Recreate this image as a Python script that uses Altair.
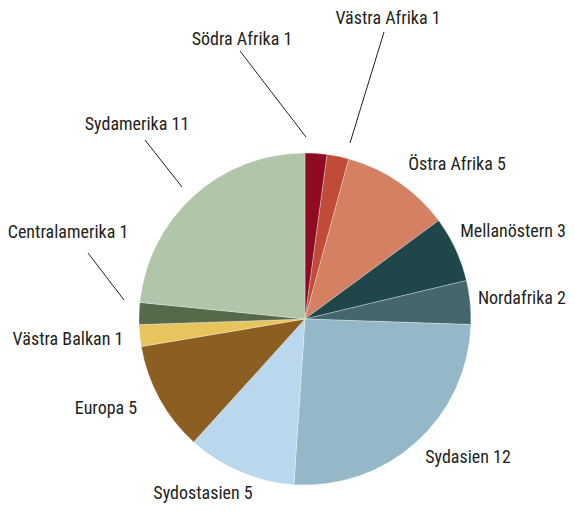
import altair as alt
import pandas as pd

categories = ["Södra Afrika", "Västra Afrika", "Östra Afrika", "Mellanöstern", "Nordafrika",
              "Sydasien", "Sydostasien", "Europa", "Västra Balkan", "Centralamerika", "Sydamerika"]
values = [1, 1, 5, 3, 2, 12, 5, 5, 1, 1, 11]
colors = ["#8e0b23", "#c04b39", "#d48062", "#1f474a", "#43676d",
          "#94b8c8", "#b9d8ed", "#8b5e21", "#e7c55c", "#55694b", "#b0c5aa"]

# label layout (chart pixel coords) – layout, not data
label_x = [234, 380, 449, 558, 558, 460, 195, 98, 60, 60, 129]
label_y = [32, 11, 157, 224, 291, 450, 486, 401, 332, 225, 117]
label_align = ["center", "center", "center", "right", "right",
               "center", "center", "center", "center", "center", "center"]
# leader lines (chart pixel coords)
lines = [
    (232, 43, 298, 129),
    (376, 24, 342, 135),
    (80, 245, 116, 292),
    (137, 132, 174, 179),
]

df = pd.DataFrame({
    "cat": categories,
    "val": values,
    "order": list(range(len(categories))),
    "label": [f"{c} {v}" for c, v in zip(categories, values)],
    "lx": label_x,
    "ly": label_y,
    "al": label_align,
})
ldf = pd.DataFrame(lines, columns=["x1", "y1", "x2", "y2"])

CX, CY, R = 297, 311, 166
FONT = "Roboto Condensed, Roboto, sans-serif"

pie = alt.Chart(df).mark_arc(outerRadius=R, stroke="#ffffff", strokeWidth=0.3).encode(
    theta=alt.Theta("val:Q", stack=True),
    order=alt.Order("order:Q"),
    color=alt.Color("cat:N", scale=alt.Scale(domain=categories, range=colors), legend=None),
    x=alt.value(CX),
    y=alt.value(CY),
)

def label_layer(align):
    return alt.Chart(df).transform_filter(alt.datum.al == align).mark_text(
        font=FONT, fontSize=18, color="#231f20", align=align, baseline="middle"
    ).encode(
        x=alt.X("lx:Q", scale=None),
        y=alt.Y("ly:Q", scale=None),
        text="label:N",
    )

rules = alt.Chart(ldf).mark_rule(color="#231f20", strokeWidth=1).encode(
    x=alt.X("x1:Q", scale=None),
    y=alt.Y("y1:Q", scale=None),
    x2="x2:Q",
    y2="y2:Q",
)

chart = alt.layer(pie, rules, label_layer("center"), label_layer("right")).properties(
    width=559, height=497, padding=0,
    autosize=alt.AutoSizeParams(type="none"),
).configure_view(stroke=None)

chart.save("out.html", embed_options={"renderer": "svg", "actions": False})
